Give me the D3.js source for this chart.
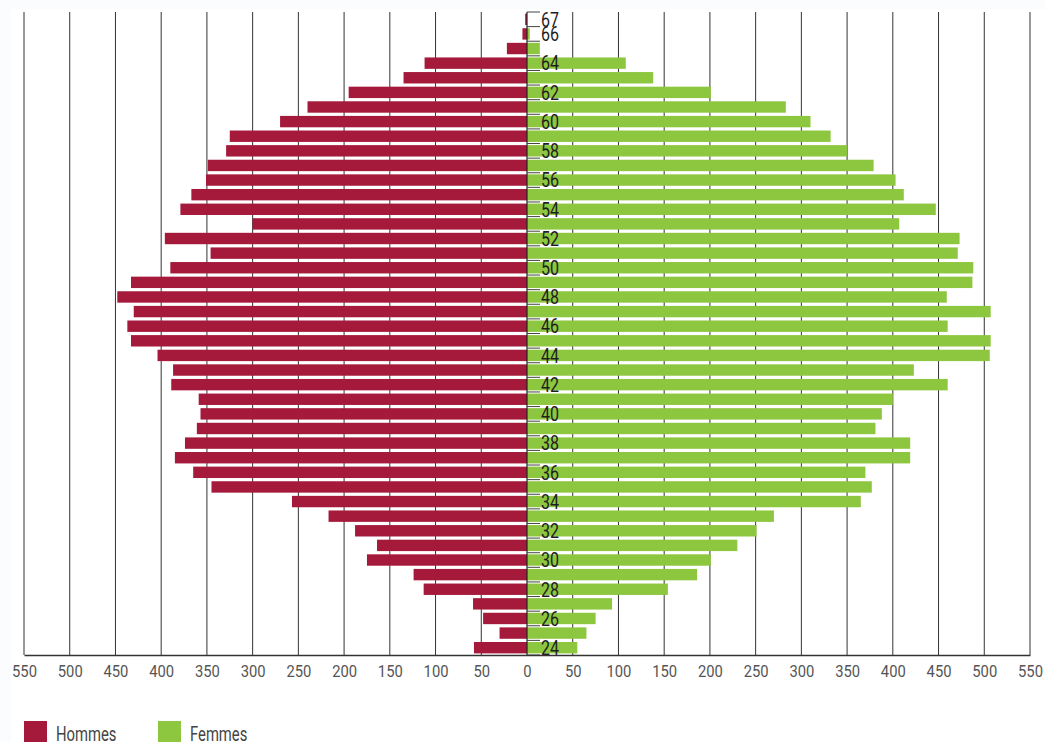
<!DOCTYPE html>
<html>
<head>
<meta charset="utf-8">
<script src="https://cdn.jsdelivr.net/npm/d3@7"></script>
<style>
  html, body { margin: 0; padding: 0; background: #fbfcfe; }
  svg { display: block; }
</style>
</head>
<body>
<svg id="chart" width="1046" height="742"></svg>
<script>
// ---- data ----
const ages = [67,66,65,64,63,62,61,60,59,58,57,56,55,54,53,52,51,50,49,48,47,46,45,44,43,42,41,40,39,38,37,36,35,34,33,32,31,30,29,28,27,26,25,24];
const hommes = [2,5,22,112,135,195,240,270,325,329,349,351,367,379,300,396,346,390,433,448,430,437,433,404,387,389,359,357,361,374,385,365,345,257,217,188,164,175,124,113,59,48,30,58];
const femmes = [0,3,14,108,138,201,283,310,332,350,379,403,412,447,407,473,471,488,487,459,507,460,507,506,423,460,400,388,381,419,419,370,377,365,270,251,230,201,186,154,93,75,65,55];
const labelledAges = [67,66,64,62,60,58,56,54,52,50,48,46,44,42,40,38,36,34,32,30,28,26,24];
const xTicks = [-550,-500,-450,-400,-350,-300,-250,-200,-150,-100,-50,0,50,100,150,200,250,300,350,400,450,500,550];
const seriesNames = ["Hommes", "Femmes"];
const colors = { Hommes: "#a51a3b", Femmes: "#8dc63f" };

// ---- layout ----
const svg = d3.select("#chart");
svg.append("rect").attr("x", 11).attr("y", 9).attr("width", 1035).attr("height", 733).attr("fill", "#ffffff");

const x = d3.scaleLinear().domain([-550, 550]).range([24, 1030]);
const y = d3.scaleBand().domain(ages).range([12, 655]).paddingInner(0.22).paddingOuter(0.11);
const step = y.step();
const fontFam = "Roboto, 'Liberation Sans', Arial, sans-serif";

// grid lines
svg.append("g").selectAll("line").data(xTicks.filter(d => d !== 0)).join("line")
  .attr("x1", d => x(d)).attr("x2", d => x(d))
  .attr("y1", 12).attr("y2", 655)
  .attr("stroke", "#333").attr("stroke-width", 1);

// bars
const rows = ages.map((a, i) => ({ age: a, h: hommes[i], f: femmes[i] }));
svg.append("g").selectAll("rect").data(rows).join("rect")
  .attr("x", d => x(-d.h)).attr("width", d => x(0) - x(-d.h))
  .attr("y", d => y(d.age)).attr("height", y.bandwidth())
  .attr("fill", colors.Hommes);
svg.append("g").selectAll("rect").data(rows).join("rect")
  .attr("x", x(0)).attr("width", d => x(d.f) - x(0))
  .attr("y", d => y(d.age)).attr("height", y.bandwidth())
  .attr("fill", colors.Femmes);

// y axis: vertical line + ticks at band boundaries
const bandTop = a => y(a) - y.step() * y.paddingInner() / 2;
const boundaries = ages.map(a => bandTop(a)).concat([bandTop(ages[ages.length - 1]) + step]);
svg.append("line").attr("x1", x(0)).attr("x2", x(0)).attr("y1", 12).attr("y2", 655)
  .attr("stroke", "#222").attr("stroke-width", 1.2);
svg.append("g").selectAll("line").data(boundaries).join("line")
  .attr("x1", x(0)).attr("x2", x(0) + 13)
  .attr("y1", d => d).attr("y2", d => d)
  .attr("stroke", "#444").attr("stroke-width", 1);

// age labels
svg.append("g").selectAll("text").data(labelledAges).join("text")
  .attr("transform", d => `translate(${x(0) + 14},${y(d) + y.bandwidth() / 2 + 7.3}) scale(0.8,1)`)
  .attr("font-family", fontFam).attr("font-size", 20).attr("font-weight", 400).attr("fill", "#1e1e1e")
  .text(d => d);

// x axis
const xAxis = d3.axisBottom(x).tickValues(xTicks).tickSize(0).tickPadding(0)
  .tickFormat(d => Math.abs(d));
const gx = svg.append("g").attr("transform", "translate(0,655)").call(xAxis);
gx.select(".domain").attr("stroke", "#333").attr("stroke-width", 1.6);
gx.selectAll("text")
  .attr("y", 22).attr("dy", null)
  .attr("transform", "scale(0.85,1)")
  .attr("font-family", fontFam).attr("font-size", 17.4).attr("fill", "#555");

// legend
const legendX = [24, 158];
const lg = svg.append("g");
seriesNames.forEach((name, i) => {
  lg.append("rect").attr("x", legendX[i]).attr("y", 721).attr("width", 23).attr("height", 23).attr("fill", colors[name]);
  lg.append("text")
    .attr("transform", `translate(${legendX[i] + 32},741) scale(0.76,1)`)
    .attr("font-family", fontFam).attr("font-size", 19.5).attr("fill", "#444")
    .text(name);
});
</script>
</body>
</html>
